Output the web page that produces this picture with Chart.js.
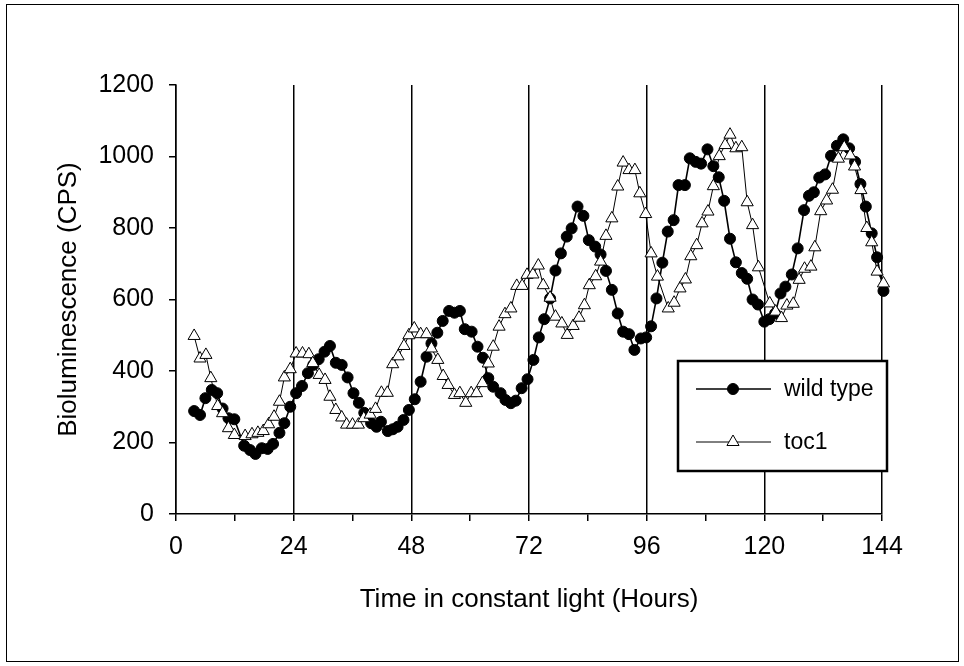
<!DOCTYPE html>
<html>
<head>
<meta charset="utf-8">
<script src="https://cdn.jsdelivr.net/npm/chart.js@4.4.1/dist/chart.umd.min.js"></script>
<style>
  html, body { margin: 0; padding: 0; background: #fff; }
  #wrap { position: relative; width: 964px; height: 666px; }
  #frame { position: absolute; left: 6px; top: 4px; width: 953px; height: 658px; border: 1px solid #000; box-sizing: border-box; pointer-events: none; }
</style>
</head>
<body>
<div id="wrap">
  <canvas id="bioChart" width="964" height="666"></canvas>
  <div id="frame"></div>
</div>
<script>
// Wild type readings (hours, CPS)
const wtHours = [3.7, 4.9, 6.0, 7.3, 8.4, 9.5, 10.7, 11.9, 13.9, 15.1, 16.2, 17.5, 18.7, 19.8, 21.1, 22.1, 23.3,
  24.5, 25.7, 26.9, 28.0, 29.1, 30.3, 31.4, 32.6, 33.8, 35.0, 36.2, 37.3, 38.4, 39.8, 40.9, 41.8, 43.2, 44.2, 45.2, 46.4, 47.5,
  48.7, 49.9, 51.1, 52.1, 53.3, 54.4, 55.7, 56.8, 57.9, 58.9, 60.3, 61.5, 62.6, 63.7, 64.7, 66.2, 67.2, 68.3, 69.3, 70.5, 71.7,
  72.9, 74.0, 75.1, 76.3, 77.4, 78.5, 79.7, 80.7, 81.9, 83.1, 84.2, 85.5, 86.6, 87.7, 88.9, 90.1, 91.2, 92.4, 93.5, 94.8, 95.9,
  96.9, 98.0, 99.2, 100.3, 101.5, 102.5, 103.8, 104.8, 106.0, 107.1, 108.4, 109.6, 110.7, 111.8, 113.0, 114.2, 115.4, 116.5, 117.6, 118.7,
  120.0, 121.0, 122.2, 123.3, 124.3, 125.6, 126.8, 128.1, 129.1, 130.1, 131.2, 132.4, 133.6, 134.8, 136.1, 137.3, 138.5, 139.6, 140.7, 141.9, 143.0, 144.3];
const wtValues = [288, 277, 324, 347, 338, 295, 268, 265, 191, 179, 168, 184, 182, 196, 227, 254, 300,
  338, 358, 394, 417, 433, 454, 470, 423, 417, 382, 338, 311, 283, 254, 244, 258, 232, 237, 244, 263, 291,
  321, 370, 440, 477, 507, 540, 568, 563, 568, 517, 510, 468, 437, 380, 356, 338, 319, 310, 317, 352, 377,
  431, 494, 545, 603, 681, 729, 776, 799, 860, 834, 766, 748, 726, 680, 627, 561, 510, 503, 459, 491, 494,
  525, 603, 703, 790, 822, 920, 920, 995, 985, 980, 1020, 973, 942, 876, 770, 704, 674, 658, 600, 586,
  538, 545, 561, 617, 636, 670, 743, 850, 890, 900, 941, 950, 1002, 1030, 1048, 1023, 985, 923, 860, 785, 718, 624];

// toc1 readings (hours, CPS)
const tocHours = [3.7, 4.9, 6.1, 7.1, 8.5, 9.5, 10.7, 11.9, 14.1, 15.5, 16.7, 17.8, 18.9, 20.0, 21.1, 22.1, 23.3,
  24.5, 25.8, 27.1, 27.9, 29.2, 30.4, 31.4, 32.6, 33.8, 34.8, 36.0, 37.2, 38.3, 39.6, 40.7, 41.9, 43.1, 44.2, 45.3, 46.5, 47.5,
  48.6, 49.9, 51.1, 52.1, 53.4, 54.5, 55.5, 56.8, 57.9, 59.1, 60.2, 61.3, 62.5, 63.7, 64.7, 65.9, 67.1, 68.3, 69.5, 70.6, 71.6,
  72.8, 73.9, 74.9, 76.3, 77.4, 78.7, 79.8, 81.0, 82.2, 83.3, 84.3, 85.6, 86.6, 87.7, 88.9, 90.1, 91.2, 92.4, 93.6, 94.6, 95.8,
  96.9, 98.2, 100.4, 101.6, 102.8, 103.9, 105.0, 106.2, 107.3, 108.5, 109.6, 110.8, 112.0, 113.0, 114.2, 115.4, 116.5, 117.6, 118.8,
  121.1, 122.3, 123.5, 124.6, 125.9, 127.1, 128.2, 129.5, 130.3, 131.5, 132.7, 133.9, 135.1, 136.3, 137.5, 138.4, 139.7, 140.9, 141.9, 143.0, 144.3];
const tocValues = [498, 435, 445, 380, 302, 282, 240, 221, 218, 223, 227, 232, 251, 272, 314, 382, 405,
  449, 449, 447, 422, 389, 375, 328, 291, 270, 250, 250, 250, 268, 278, 294, 339, 339, 419, 441, 470, 500,
  519, 503, 503, 463, 431, 386, 361, 333, 338, 311, 338, 338, 366, 421, 468, 524, 559, 575, 638, 638, 669,
  670, 695, 640, 605, 552, 533, 501, 526, 549, 584, 640, 665, 706, 778, 827, 916, 983, 962, 962, 897, 839,
  729, 664, 575, 591, 631, 656, 721, 752, 813, 846, 917, 1001, 1032, 1061, 1023, 1026, 872, 808, 690,
  589, 566, 548, 583, 588, 655, 686, 692, 746, 847, 877, 907, 994, 1026, 1003, 972, 906, 800, 760, 678, 645];

const seriesNames = ['wild type', 'toc1'];
const xTicks = [0, 24, 48, 72, 96, 120, 144];
const xMinorTicks = [0, 12, 24, 36, 48, 60, 72, 84, 96, 108, 120, 132, 144];
const yTicks = [0, 200, 400, 600, 800, 1000, 1200];

const FONT = "'Liberation Sans', Arial, Helvetica, sans-serif";

function toPoints(xs, ys) {
  return xs.map((x, i) => ({ x: x, y: ys[i] }));
}

// Boxed legend sitting inside the plot, as in the original figure
const boxLegend = {
  id: 'boxLegend',
  afterDraw(chart) {
    const ctx = chart.ctx;
    const x0 = 678, y0 = 361, w = 209, h = 110;
    ctx.save();
    ctx.fillStyle = '#fff';
    ctx.fillRect(x0, y0, w, h);
    ctx.strokeStyle = '#000';
    ctx.lineWidth = 2.5;
    ctx.strokeRect(x0, y0, w, h);

    const rows = [
      { y: 389, ds: chart.data.datasets[0] },
      { y: 442, ds: chart.data.datasets[1] }
    ];
    rows.forEach(r => {
      ctx.strokeStyle = '#000';
      ctx.lineWidth = r.ds.borderWidth;
      ctx.beginPath();
      ctx.moveTo(696, r.y);
      ctx.lineTo(771, r.y);
      ctx.stroke();
      ctx.lineWidth = r.ds.pointBorderWidth;
      ctx.fillStyle = r.ds.pointBackgroundColor;
      Chart.helpers.drawPoint(ctx, {
        pointStyle: r.ds.pointStyle,
        radius: r.ds.pointRadius,
        rotation: 0,
        borderWidth: r.ds.pointBorderWidth
      }, 733, r.y);
      ctx.fillStyle = '#000';
      ctx.font = '23px ' + FONT;
      ctx.textBaseline = 'middle';
      ctx.textAlign = 'left';
      ctx.fillText(r.ds.label, 784, r.y + 1);
    });
    ctx.restore();
  }
};

const ctx = document.getElementById('bioChart').getContext('2d');
new Chart(ctx, {
  type: 'line',
  data: {
    datasets: [
      {
        label: seriesNames[0],
        data: toPoints(wtHours, wtValues),
        borderColor: '#000',
        borderWidth: 1.6,
        pointStyle: 'circle',
        pointRadius: 5.5,
        pointBackgroundColor: '#000',
        pointBorderColor: '#000',
        pointBorderWidth: 1,
        tension: 0,
        clip: false,
        order: 2
      },
      {
        label: seriesNames[1],
        data: toPoints(tocHours, tocValues),
        borderColor: '#000',
        borderWidth: 1,
        pointStyle: 'triangle',
        pointRadius: 7,
        pointBackgroundColor: '#fff',
        pointBorderColor: '#000',
        pointBorderWidth: 1,
        tension: 0,
        clip: false,
        order: 1
      }
    ]
  },
  options: {
    responsive: false,
    animation: false,
    layout: { padding: { left: 0, top: 85, right: 82, bottom: 0 } },
    plugins: {
      legend: { display: false },
      tooltip: { enabled: false }
    },
    scales: {
      x: {
        type: 'linear',
        min: 0,
        max: 144,
        afterFit: s => { s.height = 152; },
        afterBuildTicks: s => { s.ticks = xMinorTicks.map(v => ({ value: v })); },
        ticks: {
          color: '#000',
          font: { family: FONT, size: 25 },
          padding: 11,
          maxRotation: 0,
          autoSkip: false,
          callback: v => (xTicks.includes(v) ? String(v) : '')
        },
        grid: {
          color: c => (c.tick && c.tick.value % 24 === 0 ? '#000' : 'rgba(0,0,0,0)'),
          tickColor: '#000',
          lineWidth: 1.5,
          tickLength: 7,
          drawOnChartArea: true
        },
        border: { display: true, color: '#000', width: 1.5 },
        title: {
          display: true,
          text: 'Time in constant light (Hours)',
          color: '#000',
          font: { family: FONT, size: 26 },
          padding: { top: 0, bottom: 51 }
        }
      },
      y: {
        min: 0,
        max: 1200,
        afterFit: s => { s.width = 176; },
        afterBuildTicks: s => { s.ticks = yTicks.map(v => ({ value: v })); },
        ticks: {
          color: '#000',
          font: { family: FONT, size: 25 },
          padding: 15,
          callback: v => String(v)
        },
        grid: {
          drawOnChartArea: false,
          tickColor: '#000',
          tickLength: 7,
          lineWidth: 1.5
        },
        border: { display: true, color: '#000', width: 1.5 },
        title: {
          display: true,
          text: 'Bioluminescence (CPS)',
          color: '#000',
          font: { family: FONT, size: 26 },
          padding: { top: 53, bottom: 0 }
        }
      }
    }
  },
  plugins: [boxLegend]
});
</script>
</body>
</html>
